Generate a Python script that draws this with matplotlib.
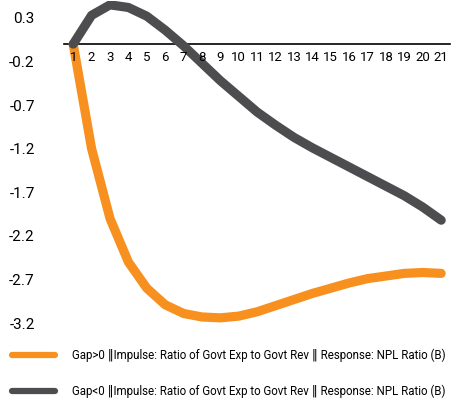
import matplotlib
matplotlib.use('Agg')
import matplotlib.pyplot as plt

plt.rcParams['font.family'] = ['Roboto', 'DejaVu Sans']

# data
periods = list(range(1, 22))
gap_pos = [0, -1.2, -2.0, -2.5, -2.8, -2.99, -3.09, -3.13, -3.14, -3.12, -3.07,
           -3.0, -2.93, -2.86, -2.8, -2.74, -2.69, -2.66, -2.63, -2.62, -2.63]
gap_neg = [0, 0.33, 0.45, 0.42, 0.32, 0.16, -0.02, -0.22, -0.42, -0.6, -0.78,
           -0.93, -1.07, -1.19, -1.3, -1.41, -1.52, -1.63, -1.74, -1.87, -2.02]
yticks = [0.3, -0.2, -0.7, -1.2, -1.7, -2.2, -2.7, -3.2]
label_pos = 'Gap>0 \u2016Impulse: Ratio of Govt Exp to Govt Rev \u2016 Response: NPL Ratio (B)'
label_neg = 'Gap<0 \u2016Impulse: Ratio of Govt Exp to Govt Rev \u2016 Response: NPL Ratio (B)'

orange = '#F7901E'
grey = '#4D4D4F'

fig = plt.figure(figsize=(4.6, 4.03), dpi=100)
ax = fig.add_axes([64 / 460, 1 - 331.8 / 403, 386.4 / 460, 331.3 / 403])

l1, = ax.plot(periods, gap_pos, color=orange, lw=6.6, solid_capstyle='round',
              solid_joinstyle='round', label=label_pos, zorder=3)
l2, = ax.plot(periods, gap_neg, color=grey, lw=6.6, solid_capstyle='round',
              solid_joinstyle='round', label=label_neg, zorder=3)

ax.set_xlim(0.5, 21.5)
ax.set_ylim(-3.3, 0.5)
ax.set_xticks(periods)
ax.set_yticks(yticks)
ax.set_yticklabels([f'{v:.1f}' for v in yticks])

for s in ['top', 'right', 'left']:
    ax.spines[s].set_visible(False)
ax.spines['bottom'].set_position(('data', 0))
ax.spines['bottom'].set_linewidth(1.2)
ax.spines['bottom'].set_zorder(2)
ax.xaxis.set_zorder(5)  # keep the "1" label on top of the lines
ax.tick_params(axis='both', length=0)
ax.tick_params(axis='x', pad=5, labelsize=9.5)
ax.tick_params(axis='y', pad=21, labelsize=11)

fig.legend(handles=[l1, l2], loc='upper left', bbox_to_anchor=(12 / 460, 1 - 349 / 403),
           frameon=False, borderpad=0, borderaxespad=0, fontsize=8.3,
           handlelength=3.7, handletextpad=1.5, labelspacing=1.9,
           handleheight=0.7)
for h in fig.legends[0].get_lines():
    h.set_linewidth(4.5)

fig.savefig('out.png', dpi=100)
